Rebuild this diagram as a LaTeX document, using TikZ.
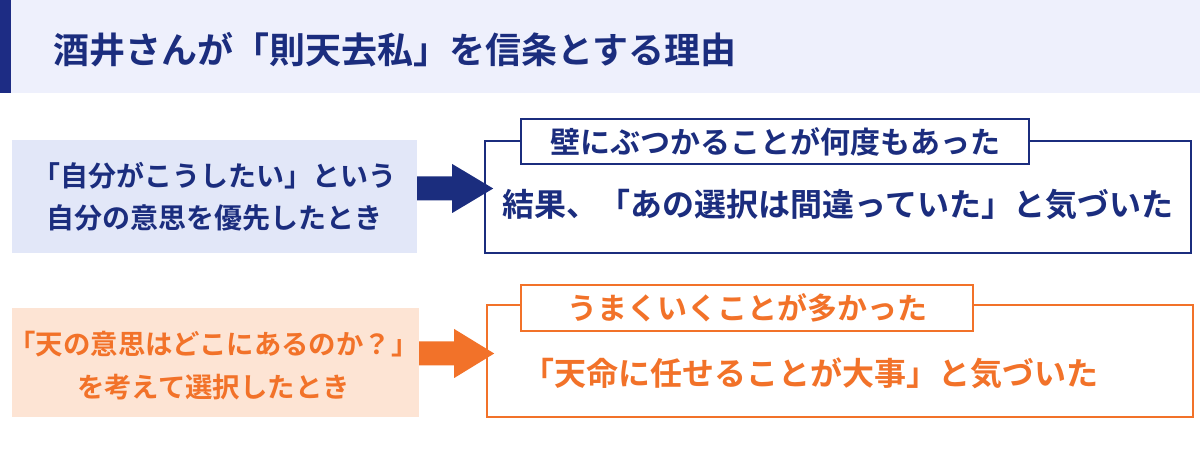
\documentclass[tikz,border=0pt]{standalone}
\usepackage{fontspec}
\setmainfont{Noto Sans CJK JP}[BoldFont={Noto Sans CJK JP Bold}]
\usetikzlibrary{calc}
\definecolor{navyc}{HTML}{1B2D7E}
\definecolor{barc}{HTML}{1D2C84}
\definecolor{headc}{HTML}{EEF0FC}
\definecolor{lbluec}{HTML}{E2E7F8}
\definecolor{orangec}{HTML}{F27229}
\definecolor{peachc}{HTML}{FDE4D4}
\tikzset{
  srcbox/.style={inner sep=0pt},
  srctext/.style={inner sep=0pt, align=center, font=\bfseries\fontsize{28}{42}\selectfont},
  resbox/.style={draw, line width=2.2pt, fill=white, inner sep=0pt},
  labbox/.style={draw, line width=2.2pt, fill=white, inner sep=0pt, font=\bfseries\fontsize{30}{32}\selectfont},
  maintext/.style={inner sep=0pt, font=\bfseries\fontsize{32}{36}\selectfont},
}
\begin{document}
\begin{tikzpicture}[x=1pt,y=-1pt]
\useasboundingbox (0,0) rectangle (1200,454);
\fill[white] (0,0) rectangle (1200,454);
% header
\fill[headc] (0,0) rectangle (1200,93);
\fill[barc] (0,0) rectangle (11,93);
\node[anchor=west, inner sep=0pt, text=navyc, font=\bfseries\fontsize{36}{38}\selectfont] (title) at (53,50) {酒井さんが「則天去私」を信条とする理由};
% top row
\node[srcbox, fill=lbluec, minimum width=405pt, minimum height=113pt] (lb1) at (214.5,196.5) {};
\node[srctext, text=navyc] (lt1) at (lb1.center) {「自分がこうしたい」という\\自分の意思を優先したとき};
\node[resbox, draw=navyc, minimum width=706pt, minimum height=112pt] (rb1) at (838,197) {};
\node[labbox, draw=navyc, text=navyc, minimum width=508pt, minimum height=45pt] (lab1) at (775,141.5) {壁にぶつかることが何度もあった};
\node[maintext, text=navyc] (mt1) at (838,205) {結果、「あの選択は間違っていた」と気づいた};
\fill[navyc] ($(lb1.east)+(0,-20)$) -- ++(35,0) -- ++(0,-12.5) -- ++(41,24.5) -- ++(-41,24.5) -- ++(0,-12.5) -- ++(-35,0) -- cycle;
% bottom row
\node[srcbox, fill=peachc, minimum width=407pt, minimum height=109pt] (lb2) at (215.5,362.5) {};
\node[srctext, text=orangec, font=\bfseries\fontsize{27.4}{43}\selectfont] (lt2) at ($(lb2.center)+(-2,3)$) {「天の意思はどこにあるのか？」\\を考えて選択したとき};
\node[resbox, draw=orangec, minimum width=706pt, minimum height=112pt] (rb2) at (840,361) {};
\node[labbox, draw=orangec, text=orangec, minimum width=452pt, minimum height=46pt] (lab2) at (747,308) {うまくいくことが多かった};
\node[maintext, text=orangec] (mt2) at (810,373) {「天命に任せることが大事」と気づいた};
\fill[orangec] ($(lb2.east)+(0,-21)$) -- ++(35,0) -- ++(0,-12.5) -- ++(40,24.5) -- ++(-40,24.5) -- ++(0,-12.5) -- ++(-35,0) -- cycle;
\end{tikzpicture}
\end{document}
